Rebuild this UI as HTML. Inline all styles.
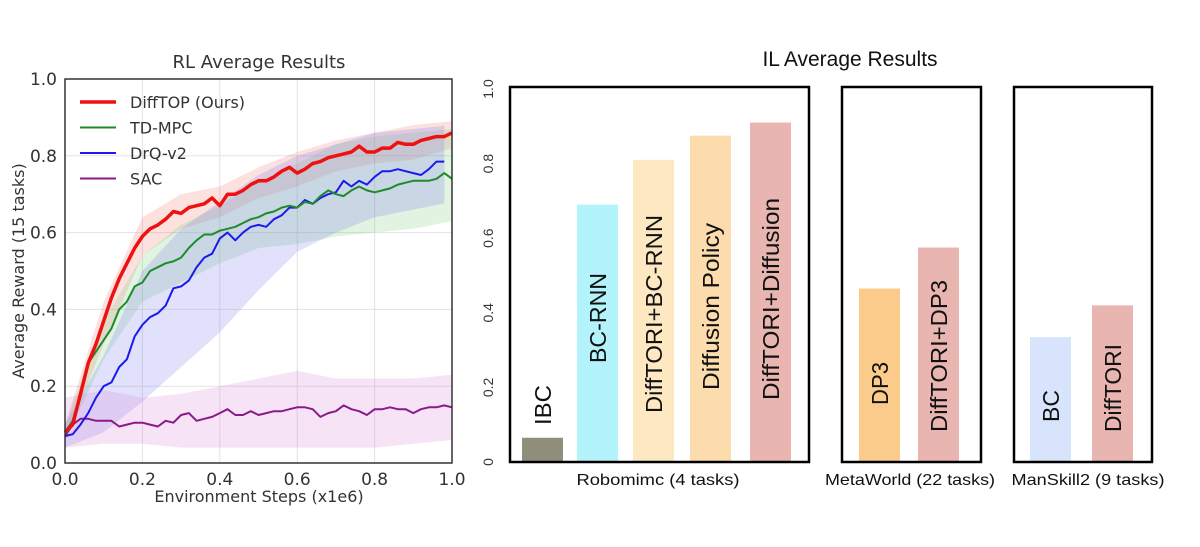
<!DOCTYPE html>
<html><head><meta charset="utf-8"><style>
body{margin:0;background:#fff;}
svg{display:block;font-family:"DejaVu Sans","Liberation Sans",sans-serif;}
</style></head><body>
<svg id="chart" width="1200" height="547" viewBox="0 0 1200 547"></svg>
<script>
// ---------- RL chart data ----------
const rlX = [];
for (let i = 0; i <= 50; i++) rlX.push(i * 0.02);
const redMean = [.08,.10,.18,.26,.31,.37,.43,.48,.52,.56,.59,.61,.62,.635,.655,.65,.665,.67,.675,.69,.67,.70,.70,.71,.725,.735,.735,.745,.76,.77,.755,.765,.78,.785,.795,.80,.805,.81,.825,.81,.81,.82,.82,.835,.83,.83,.84,.845,.85,.85,.86];
const greenMean = [.08,.11,.18,.26,.29,.32,.35,.40,.42,.46,.47,.50,.51,.52,.525,.535,.56,.58,.595,.595,.605,.61,.615,.625,.635,.64,.65,.655,.665,.67,.665,.68,.675,.695,.71,.70,.695,.71,.72,.71,.705,.71,.715,.725,.73,.735,.735,.735,.74,.755,.74];
const blueMean = [.07,.075,.10,.13,.17,.20,.21,.25,.27,.33,.36,.38,.39,.41,.455,.46,.475,.51,.535,.545,.585,.60,.58,.60,.615,.62,.615,.635,.645,.665,.665,.685,.675,.69,.70,.705,.735,.72,.735,.725,.745,.76,.76,.765,.76,.755,.75,.765,.785,.785];
const purpleMean = [.07,.10,.115,.115,.11,.11,.11,.095,.10,.105,.105,.10,.095,.11,.105,.125,.13,.11,.115,.12,.13,.14,.125,.125,.135,.125,.13,.135,.135,.14,.145,.145,.14,.12,.13,.135,.15,.14,.135,.125,.14,.14,.145,.14,.14,.13,.14,.145,.145,.15,.145];
const bandX = [0,.1,.2,.3,.4,.5,.6,.7,.8,.9,1.0];
const redLo = [.06,.31,.54,.61,.64,.69,.72,.76,.78,.79,.82];
const redHi = [.10,.42,.64,.70,.72,.77,.81,.84,.86,.88,.89];
const greenLo = [.06,.27,.42,.47,.52,.56,.57,.59,.60,.61,.63];
const greenHi = [.10,.37,.54,.62,.67,.73,.78,.83,.85,.86,.87];
const blueLo = [.04,.08,.16,.25,.34,.45,.55,.60,.64,.66,.68];
const blueHi = [.10,.28,.50,.61,.68,.75,.80,.83,.86,.87,.88];
const purpleLo = [.04,.05,.05,.04,.04,.04,.04,.04,.04,.05,.06];
const purpleHi = [.17,.19,.17,.18,.20,.22,.24,.22,.22,.22,.23];
const rlTicks = [0,0.2,0.4,0.6,0.8,1.0];
const rlTickLabels = ["0.0","0.2","0.4","0.6","0.8","1.0"];
const legendNames = ["DiffTOP (Ours)","TD-MPC","DrQ-v2","SAC"];

// ---------- IL chart data ----------
const ilCategories = ["IBC","BC-RNN","DiffTORI+BC-RNN","Diffusion Policy","DiffTORI+Diffusion","DP3","DiffTORI+DP3","BC","DiffTORI"];
const ilValues = [0.065,0.69,0.81,0.875,0.91,0.465,0.575,0.335,0.42];
const ilGroups = [0,0,0,0,0,1,1,2,2];
const ilGroupNames = ["Robomimc (4 tasks)","MetaWorld (22 tasks)","ManSkill2 (9 tasks)"];
const ilTicks = [0,0.2,0.4,0.6,0.8,1.0];
const ilTickLabels = ["0","0.2","0.4","0.6","0.8","1.0"];

const NS = "http://www.w3.org/2000/svg";
const svg = document.getElementById("chart");
function el(tag, attrs, parent, text){
  const e = document.createElementNS(NS, tag);
  for (const k in attrs) e.setAttribute(k, attrs[k]);
  if (text !== undefined) e.textContent = text;
  (parent || svg).appendChild(e);
  return e;
}

// ---------- RL ----------
const L = {x0:65, x1:452, y0:463, y1:79};
const rx = v => L.x0 + v * (L.x1 - L.x0);
const ry = v => L.y0 - v * (L.y0 - L.y1);
const rl = el("g", {});


const t1 = el("text", {x:259, y:68, "text-anchor":"middle", "font-size":18, fill:"#333"}, rl, "RL Average Results");


rlTicks.forEach((t, i) => {
  const g1 = el("line", {x1:rx(t), x2:rx(t), y1:L.y0, y2:L.y1, stroke:"#e2e2e2", "stroke-width":1}, rl);
  
  
  const g2 = el("line", {x1:L.x0, x2:L.x1, y1:ry(t), y2:ry(t), stroke:"#e2e2e2", "stroke-width":1}, rl);
  
  
  const xl = el("text", {x:rx(t), y:485, "text-anchor":"middle", "font-size":17, fill:"#333"}, rl, rlTickLabels[i]);
  
  
  const yl = el("text", {x:57, y:ry(t)+6, "text-anchor":"end", "font-size":17, fill:"#333"}, rl, rlTickLabels[i]);
  
  
});
function interp(xs, ys, x){
  for (let i = 0; i < xs.length - 1; i++) if (x <= xs[i+1]) { const f = (x - xs[i])/(xs[i+1]-xs[i]); return ys[i] + f*(ys[i+1]-ys[i]); }
  return ys[ys.length-1];
}
const series = [
  {name:"difftop", mean:redMean, lo:redLo, hi:redHi, color:"#ee1111", band:"rgba(240,120,110,0.22)", w:3.5},
  {name:"td-mpc", mean:greenMean, lo:greenLo, hi:greenHi, color:"#1f8a2a", band:"rgba(120,200,120,0.22)", w:2},
  {name:"drq-v2", mean:blueMean, lo:blueLo, hi:blueHi, color:"#1a1aee", band:"rgba(120,120,240,0.22)", w:2},
  {name:"sac", mean:purpleMean, lo:purpleLo, hi:purpleHi, color:"#8a1a8a", band:"rgba(210,120,210,0.2)", w:2}
];
series.forEach(s => {
  const n = s.mean.length;
  let up = [], dn = [];
  for (let i = 0; i < n; i++) {
    const x = rlX[i];
    up.push(rx(x).toFixed(1) + "," + ry(interp(bandX, s.hi, x)).toFixed(1));
    dn.unshift(rx(x).toFixed(1) + "," + ry(interp(bandX, s.lo, x)).toFixed(1));
  }
  const b = el("polygon", {points: up.concat(dn).join(" "), fill: s.band}, rl);
  
  
});
series.slice().reverse().forEach(s => {
  const pts = s.mean.map((v, i) => rx(rlX[i]).toFixed(1) + "," + ry(v).toFixed(1)).join(" ");
  const p = el("polyline", {points: pts, fill:"none", stroke:s.color, "stroke-width":s.w, "stroke-linejoin":"round"}, rl);
  
  
});
const frame = el("rect", {x:L.x0, y:L.y1, width:L.x1-L.x0, height:L.y0-L.y1, fill:"none", stroke:"#333", "stroke-width":1.5}, rl);


series.forEach((s, i) => {
  const y = 102 + i * 25.5;
  const g = el("g", {}, rl);
  
  
  el("line", {x1:80, x2:116, y1:y, y2:y, stroke:s.color, "stroke-width":s.w}, g);
  el("text", {x:130, y:y+6, "font-size":16, fill:"#333"}, g, legendNames[i]);
});
const xt = el("text", {x:259, y:502, "text-anchor":"middle", "font-size":16, fill:"#333"}, rl, "Environment Steps (x1e6)");


const yt = el("text", {x:0, y:0, transform:"translate(24,271) rotate(-90)", "text-anchor":"middle", "font-size":16, fill:"#333"}, rl, "Average Reward (15 tasks)");



// ---------- IL ----------
const il = el("g", {"font-family":"\"Liberation Sans\", sans-serif"});


const Y0 = 462, Y1 = 89;
const iy = v => Y0 - v * (Y0 - Y1);
const t2 = el("text", {x:850, y:66, "text-anchor":"middle", "font-size":21, fill:"#111"}, il, "IL Average Results");


ilTicks.forEach((t, i) => {
  const yl = el("text", {x:0, y:0, transform:`translate(493,${iy(t)}) rotate(-90)`, "text-anchor":"middle", "font-size":14, fill:"#333"}, il, ilTickLabels[i]);
  
  
});
const boxes = [{x0:510,x1:809},{x0:842,x1:981},{x0:1014,x1:1152}];
const groupLabelX = [658,910,1088];
const groupLabelLen = [163,170,153];
const barColors = ["#8f8f7c","#b3f3fb","#fde8c2","#fcdbac","#e9b5b1","#fbcb8b","#e9b5b1","#d8e4fb","#e9b5b1"];
const barW = 41;
const barLeft = [522,577,633,690,750,859,918,1030,1092];
const labelBottom = [425,363,413,390,400,405,432,422,432];
const labelLen = [40,90,198,167,202,43,152,32,88];
ilCategories.forEach((c, i) => {
  const bx = barLeft[i];
  const g = el("g", {}, il);
  
  
  el("rect", {x:bx, y:iy(ilValues[i]), width:barW, height:Y0 - 1 - iy(ilValues[i]), fill:barColors[i]}, g);
  el("text", {x:0, y:0, transform:`translate(${bx + barW/2 + 8.5},${labelBottom[i]}) rotate(-90)`, "font-size":23, fill:"#111", textLength:labelLen[i], lengthAdjust:"spacingAndGlyphs"}, g, c);
});
boxes.forEach((b, i) => {
  const r = el("rect", {x:b.x0, y:Y1-2, width:b.x1-b.x0, height:Y0-Y1+2, fill:"none", stroke:"#000", "stroke-width":2.5}, il);
  
  
  const gl = el("text", {x:groupLabelX[i], y:485, "text-anchor":"middle", "font-size":16, fill:"#111", textLength:groupLabelLen[i], lengthAdjust:"spacingAndGlyphs"}, il, ilGroupNames[i]);
  
  
});
</script>
</body></html>
